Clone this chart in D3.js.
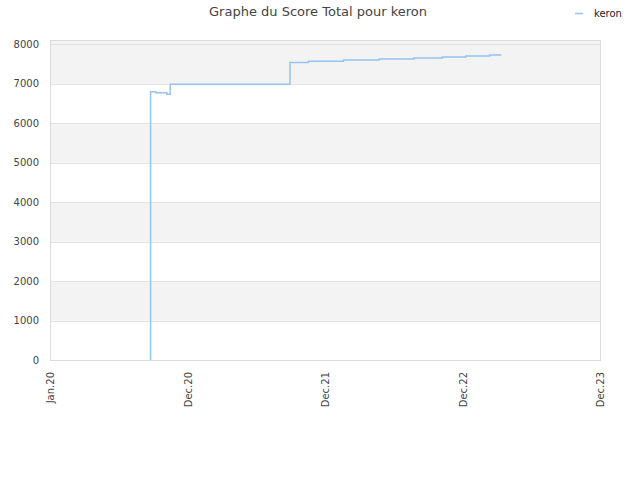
<!DOCTYPE html>
<html>
<head>
<meta charset="utf-8">
<script src="https://cdn.jsdelivr.net/npm/d3@7"></script>
<style>
  body { margin: 0; background: #fff; }
  text { font-family: "DejaVu Sans", sans-serif; }
</style>
</head>
<body>
<svg id="chart" width="640" height="480"></svg>
<script>
// score history for keron
var dates  = ["2020-09-24", "2020-09-24", "2020-09-24", "2020-10-08", "2020-11-06", "2020-11-15",
              "2021-09-29", "2021-11-17", "2022-02-18", "2022-05-24", "2022-08-24", "2022-10-10",
              "2022-11-08", "2023-01-09", "2023-03-13", "2023-04-13"];
var scores = [0, 5400, 6800, 6770, 6735, 6990,
              7540, 7570, 7605, 7630, 7655, 7655,
              7680, 7705, 7730, 7730];

var xTickDates  = ["2020-01-01", "2020-12-31", "2021-12-31", "2022-12-31", "2023-12-31"];
var xTickLabels = ["Jan.20", "Dec.20", "Dec.21", "Dec.22", "Dec.23"];
var yTicks = [0, 1000, 2000, 3000, 4000, 5000, 6000, 7000, 8000];

var parse = d3.timeParse("%Y-%m-%d");
// plot box (window.top is taken, so no plain "top")
var plotL = 50, plotR = 600, plotT = 40, plotB = 360;

var svg = d3.select("#chart");

var x = d3.scaleTime()
  .domain([parse(xTickDates[0]), parse(xTickDates[xTickDates.length - 1])])
  .range([plotL, plotR]);

var y = d3.scaleLinear()
  .domain([0, 8110])
  .range([plotB, plotT]);

// alternating bands, grey on odd intervals, top one runs to the edge
var bands = [];
for (var i = 1; i < yTicks.length; i += 2) {
  var hi = (i + 1 < yTicks.length) ? yTicks[i + 1] : y.domain()[1];
  bands.push([yTicks[i], hi]);
}
bands[bands.length - 1][1] = y.domain()[1];

svg.selectAll("rect.band")
  .data(bands)
  .enter().append("rect")
    .attr("class", "band")
    .attr("x", plotL)
    .attr("width", plotR - plotL)
    .attr("y", function(d){ return y(d[1]); })
    .attr("height", function(d){ return y(d[0]) - y(d[1]); })
    .style("fill", "#f3f3f3");

// grid lines
svg.selectAll("line.grid")
  .data(yTicks)
  .enter().append("line")
    .attr("class", "grid")
    .attr("x1", plotL).attr("x2", plotR)
    .attr("y1", function(d){ return Math.round(y(d)) + 0.5; })
    .attr("y2", function(d){ return Math.round(y(d)) + 0.5; })
    .style("stroke", "#e2e2e2");

// frame
svg.append("rect")
  .attr("x", plotL + 0.5).attr("y", plotT + 0.5)
  .attr("width", plotR - plotL).attr("height", plotB - plotT)
  .style("fill", "none")
  .style("stroke", "#dcdcdc");

// y labels
svg.selectAll("text.ylab")
  .data(yTicks)
  .enter().append("text")
    .attr("class", "ylab")
    .attr("x", 39)
    .attr("y", function(d){ return y(d); })
    .attr("dy", "0.35em")
    .attr("text-anchor", "end")
    .style("font-size", "10px")
    .style("fill", "#444")
    .text(function(d){ return d; });

// x axis (labels only, rotated)
var xAxis = d3.axisBottom(x)
  .tickValues(xTickDates.map(parse))
  .tickSize(0)
  .tickFormat(function(d, i){ return xTickLabels[i]; });

var gx = svg.append("g")
  .attr("transform", "translate(0," + plotB + ")")
  .call(xAxis);
gx.select(".domain").remove();
gx.selectAll("text")
  .attr("transform", "rotate(-90)")
  .attr("x", -12)
  .attr("y", 0)
  .attr("dy", "0.35em")
  .attr("text-anchor", "end")
  .style("font-family", "DejaVu Sans, sans-serif")
  .style("font-size", "10px")
  .style("fill", "#444");

// the score line
var points = dates.map(function(d, i){ return { date: parse(d), score: scores[i] }; });

var line = d3.line()
  .curve(d3.curveStepAfter)
  .x(function(d){ return x(d.date); })
  .y(function(d){ return y(d.score); });

svg.append("path")
  .datum(points)
  .attr("d", line)
  .style("fill", "none")
  .style("stroke", "#93c4f2")
  .style("stroke-width", 1.5);

// title
svg.append("text")
  .attr("x", 318)
  .attr("y", 16)
  .attr("text-anchor", "middle")
  .style("font-size", "13px")
  .style("fill", "#444")
  .text("Graphe du Score Total pour keron");

// legend
svg.append("line")
  .attr("x1", 575).attr("x2", 583)
  .attr("y1", 13.5).attr("y2", 13.5)
  .style("stroke", "#93c4f2")
  .style("stroke-width", 1.5);
svg.append("text")
  .attr("x", 594)
  .attr("y", 13)
  .attr("dy", "0.35em")
  .style("font-size", "10px")
  .style("fill", "#222")
  .text("keron");
</script>
</body>
</html>
